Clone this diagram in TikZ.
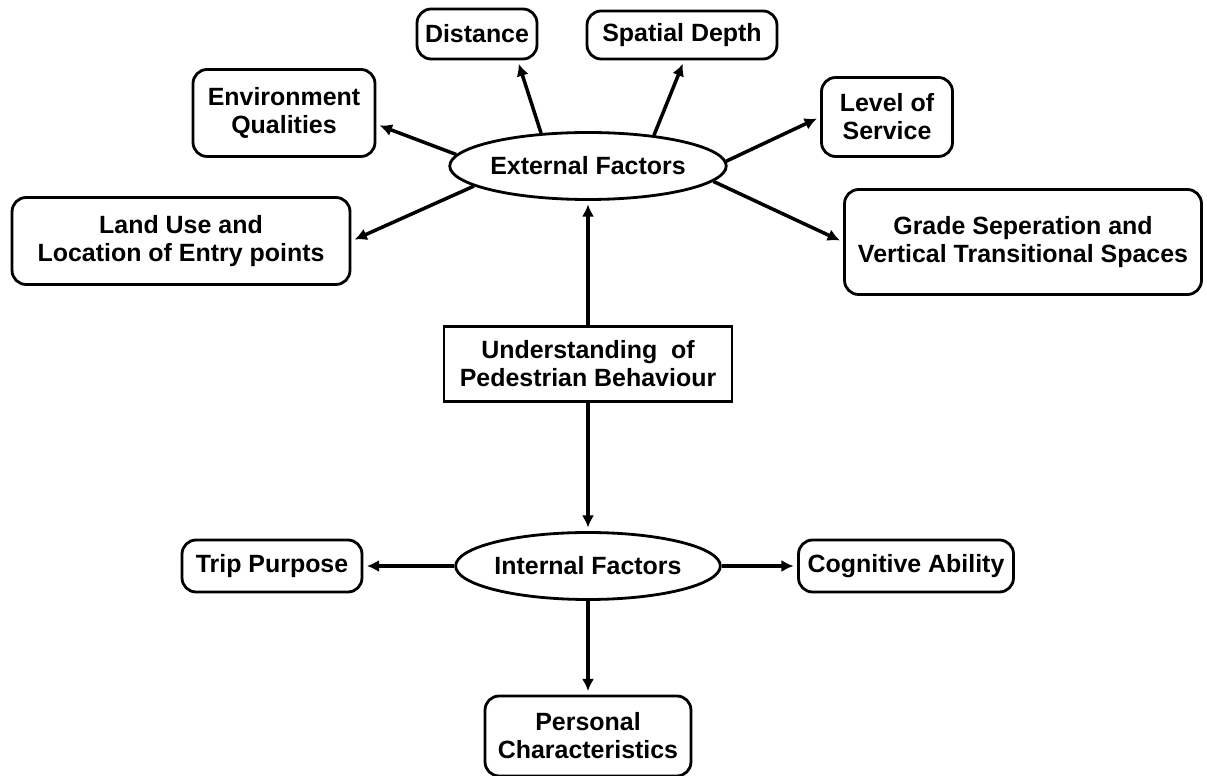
\documentclass[tikz,border=0pt]{standalone}
\usepackage{fontspec}
\setmainfont{Liberation Sans}
\usetikzlibrary{shapes.geometric,arrows.meta}
\begin{document}
\begin{tikzpicture}[x=0.02cm,y=-0.02cm,
    font=\fontsize{14.2}{15.9}\selectfont\bfseries,
    factor/.style={draw,line width=1.6pt,rounded corners=8pt,align=center,inner sep=0pt},
    core/.style={draw,ellipse,line width=1.6pt,inner sep=0pt,minimum width=4.8cm,minimum height=1.34cm},
    link/.style={-{Latex[length=7pt,width=7pt]},line width=2pt,shorten >=2pt}]
    \useasboundingbox (0,0) rectangle (1207,776);
    \node[core] (ext) at (588,166) {External Factors};
    \node[core] (int) at (588,566) {Internal Factors};
    \node[draw,line width=1.4pt,align=center,inner sep=0pt,minimum width=5.76cm,minimum height=1.5cm] (und) at (588,364) {Understanding~ of\\Pedestrian Behaviour};
    \node[factor,minimum width=2.4cm,minimum height=1cm] (dist) at (477,34) {Distance};
    \node[factor,minimum width=3.8cm,minimum height=0.96cm] (sdep) at (682,35) {Spatial Depth};
    \node[factor,minimum width=3.64cm,minimum height=1.74cm] (env) at (284,113) {Environment\\Qualities};
    \node[factor,minimum width=2.62cm,minimum height=1.58cm] (los) at (887,117) {Level of\\Service};
    \node[factor,minimum width=6.76cm,minimum height=1.74cm] (land) at (181,241) {Land Use and\\Location of Entry points};
    \node[factor,minimum width=7.14cm,minimum height=2.1cm] (grade) at (1023,242) {Grade Seperation and\\Vertical Transitional Spaces};
    \node[factor,minimum width=3.6cm,minimum height=1.04cm] (trip) at (272,566) {Trip Purpose};
    \node[factor,minimum width=4.3cm,minimum height=1.04cm] (cog) at (906,566) {Cognitive Ability};
    \node[factor,minimum width=4.12cm,minimum height=1.6cm] (pers) at (588,736) {Personal\\Characteristics};
    \draw[link] (ext.145) -- (dist.-33);
    \draw[link] (ext.25) -- (sdep.-85);
    \draw[link] (ext.175) -- (env.-7);
    \draw[link] (ext.2) -- (los.west);
    \draw[link] (ext.190) -- (land.east);
    \draw[link] (ext.-7) -- (grade.west);
    \draw[link] (und.north) -- (und.north |- ext.south);
    \draw[link] (und.south) -- (und.south |- int.north);
    \draw[link] (int.west) -- (trip.east);
    \draw[link] (int.east) -- (cog.west);
    \draw[link] (int.south) -- (pers.north);
\end{tikzpicture}
\end{document}
